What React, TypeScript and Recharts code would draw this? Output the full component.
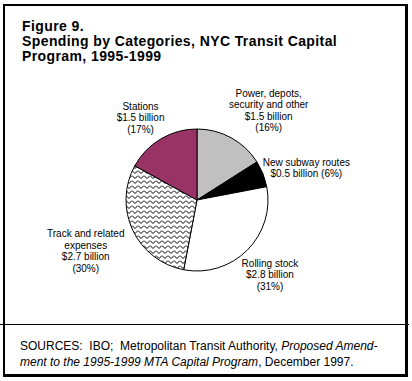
import React from 'react';
import { PieChart, Pie, Cell } from 'recharts';

// ---- data ----
const categories = [
  'Power, depots, security and other',
  'New subway routes',
  'Rolling stock',
  'Track and related expenses',
  'Stations',
];
const shares = [16, 6, 31, 30, 17]; // percent of program
const billions = [1.5, 0.5, 2.8, 2.7, 1.5]; // $ billion
const nameLines = [
  ['Power, depots,', 'security and other'],
  ['New subway routes'],
  ['Rolling stock'],
  ['Track and related', 'expenses'],
  ['Stations'],
];
const titleLines = [
  'Figure 9.',
  'Spending by Categories, NYC Transit Capital',
  'Program, 1995-1999',
];

const data = categories.map((name, i) => ({ name, value: shares[i], billion: billions[i] }));

// ---- styles ----
const fills = ['#C0C0C0', '#000000', '#FFFFFF', 'url(#zigzag)', '#993366'];
// label placement: distance from pie centre and clockwise angular nudge (deg)
const labelDist = [112, 113, 107, 124, 97];
const labelShift = [11, 7, 2, -1, -5];
const LINE_H = 11.5;
const labelFont = "'Liberation Sans Narrow', 'Arial Narrow', 'Liberation Sans', Arial, sans-serif";
const mainFont = "'Liberation Sans', Arial, sans-serif";

const RAD = Math.PI / 180;

const renderLabel = (props: any) => {
  const { cx, cy, midAngle, index } = props;
  const a = (midAngle - labelShift[index]) * RAD;
  const d = labelDist[index];
  const x = cx + d * Math.cos(a);
  const y = cy - d * Math.sin(a);
  const valueText = `$${billions[index].toFixed(1)} billion`;
  const pctText = `(${shares[index]}%)`;
  const lines =
    index === 1
      ? [...nameLines[index], `${valueText} ${pctText}`]
      : [...nameLines[index], valueText, pctText];
  const n = lines.length;
  return (
    <text
      key={`lbl-${index}`}
      x={x}
      y={y}
      textAnchor="middle"
      fontFamily={labelFont}
      fontSize={10}
      fill="#000"
    >
      {lines.map((t, i) => (
        <tspan key={i} x={x} y={y + (i - (n - 1) / 2) * LINE_H}>
          {t}
        </tspan>
      ))}
    </text>
  );
};

export default function App() {
  return (
    <div style={{ position: 'absolute', left: 0, top: 0, width: 412, height: 381, background: '#fff' }}>
      <svg width={412} height={381} style={{ position: 'absolute', left: 0, top: 0 }}>
        <defs>
          <pattern id="zigzag" width={6} height={5} patternUnits="userSpaceOnUse">
            <rect width={6} height={5} fill="#fff" />
            <path d="M0 0.5 L3 3.5 L6 0.5" stroke="#000" strokeWidth={1} fill="none" />
          </pattern>
        </defs>
      </svg>
      <div style={{ position: 'absolute', left: 0, top: 0 }}>
        <PieChart width={412} height={381} margin={{ top: 0, right: 0, bottom: 0, left: 0 }}>
          <Pie
            data={data}
            dataKey="value"
            nameKey="name"
            cx={197}
            cy={200}
            outerRadius={71}
            startAngle={90}
            endAngle={-270}
            isAnimationActive={false}
            label={renderLabel}
            labelLine={false}
          >
            {data.map((d, i) => (
              <Cell key={d.name} fill={fills[i]} stroke="#000" strokeWidth={1} />
            ))}
          </Pie>
        </PieChart>
      </div>
      <svg
        width={412}
        height={381}
        style={{ position: 'absolute', left: 0, top: 0, pointerEvents: 'none' }}
      >
        {/* frame */}
        <rect x={3} y={4} width={2} height={373} fill="#000" />
        <rect x={3} y={4} width={405} height={2} fill="#000" />
        <rect x={405} y={4} width={3} height={373} fill="#000" />
        <rect x={3} y={374} width={405} height={3} fill="#000" />
        <rect x={0} y={324} width={409} height={1} fill="#000" />
        {/* title */}
        <text fontFamily={mainFont} fontWeight="bold" fontSize={14} fill="#000" letterSpacing={0.4}>
          {titleLines.map((t, i) => (
            <tspan key={i} x={22} y={31 + i * 15}>
              {t}
            </tspan>
          ))}
        </text>
        {/* source note */}
        <text fontFamily={mainFont} fontSize={12} fill="#000" style={{ whiteSpace: 'pre' }}>
          <tspan x={20} y={349.5}>
            {'SOURCES:  IBO;  Metropolitan Transit Authority, '}
          </tspan>
          <tspan fontStyle="italic">Proposed Amend-</tspan>
          <tspan x={20} y={366} fontStyle="italic">
            ment to the 1995-1999 MTA Capital Program
          </tspan>
          <tspan>, December 1997.</tspan>
        </text>
      </svg>
    </div>
  );
}
